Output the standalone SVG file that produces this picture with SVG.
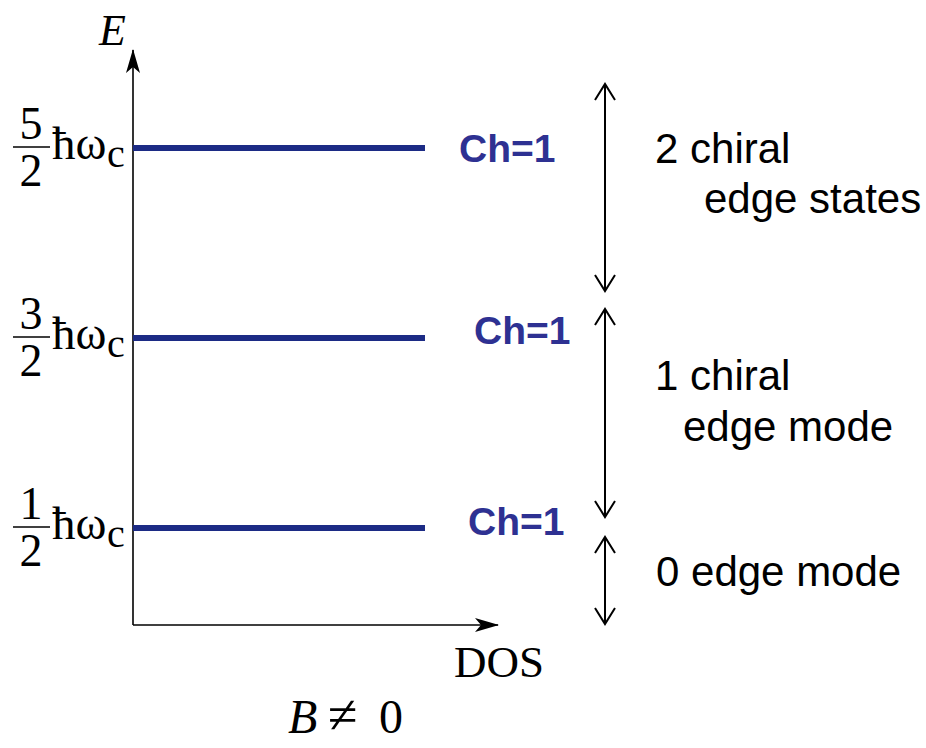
<svg xmlns="http://www.w3.org/2000/svg" width="926" height="748" viewBox="0 0 926 748">
<defs>
<style>
.serif{font-family:"Liberation Serif","Times New Roman",serif;fill:#000}
.ital{font-style:italic}
.sans{font-family:"Liberation Sans",Arial,sans-serif;fill:#000;font-size:42px}
.ch{font-family:"Liberation Sans",Arial,sans-serif;font-weight:bold;font-size:39px;fill:#2e3192}
.level{stroke:#1c2b85;stroke-width:6;fill:none}
.axis{stroke:#000;stroke-width:1.6;fill:none}
.dbl{stroke:#000;stroke-width:2;fill:none}
.frac{stroke:#000;stroke-width:1.6}
</style>
<marker id="open" viewBox="0 0 20 24" refX="18" refY="12" markerWidth="20" markerHeight="24" markerUnits="userSpaceOnUse" orient="auto-start-reverse">
<path d="M2,2 L18,12 L2,22" fill="none" stroke="#000" stroke-width="2"/>
</marker>
<marker id="solid" viewBox="0 0 24 14" refX="23" refY="7" markerWidth="24" markerHeight="14" markerUnits="userSpaceOnUse" orient="auto">
<path d="M0,0 L24,7 L0,14 L6,7 Z" fill="#000"/>
</marker>
</defs>
<rect width="926" height="748" fill="#fff"/>

<g id="axes">
<line class="axis" x1="133" y1="625" x2="133" y2="50" marker-end="url(#solid)"/>
<line class="axis" x1="133" y1="625" x2="498" y2="625" marker-end="url(#solid)"/>
<text class="serif ital" x="99" y="45" font-size="44">E</text>
<text class="serif" x="454" y="677" font-size="45">DOS</text>
<text class="serif ital" x="288" y="733" font-size="48">B</text>
<text class="serif" x="328" y="733" font-size="54">≠</text>
<text class="serif" x="379" y="733" font-size="48">0</text>
</g>

<g id="level-5-2">
<line class="level" x1="133" y1="148" x2="425" y2="148"/>
<text class="serif" x="31" y="139" font-size="46" text-anchor="middle">5</text>
<line class="frac" x1="13" y1="147" x2="50" y2="147"/>
<text class="serif" x="31" y="186" font-size="46" text-anchor="middle">2</text>
<text class="serif" x="52" y="159" font-size="47">ħω</text>
<text class="serif" x="107" y="167" font-size="40">c</text>
<text class="ch" x="459" y="162">Ch=1</text>
</g>

<g id="level-3-2">
<line class="level" x1="133" y1="338" x2="425" y2="338"/>
<text class="serif" x="31" y="329" font-size="46" text-anchor="middle">3</text>
<line class="frac" x1="13" y1="337" x2="50" y2="337"/>
<text class="serif" x="31" y="376" font-size="46" text-anchor="middle">2</text>
<text class="serif" x="52" y="349" font-size="47">ħω</text>
<text class="serif" x="107" y="357" font-size="40">c</text>
<text class="ch" x="474" y="344">Ch=1</text>
</g>

<g id="level-1-2">
<line class="level" x1="133" y1="528" x2="425" y2="528"/>
<text class="serif" x="31" y="519" font-size="46" text-anchor="middle">1</text>
<line class="frac" x1="13" y1="527" x2="50" y2="527"/>
<text class="serif" x="31" y="566" font-size="46" text-anchor="middle">2</text>
<text class="serif" x="52" y="539" font-size="47">ħω</text>
<text class="serif" x="107" y="547" font-size="40">c</text>
<text class="ch" x="468" y="535">Ch=1</text>
</g>

<g id="connectors">
<line class="dbl" x1="605" y1="84" x2="605" y2="291" marker-start="url(#open)" marker-end="url(#open)"/>
<line class="dbl" x1="605" y1="309" x2="605" y2="517" marker-start="url(#open)" marker-end="url(#open)"/>
<line class="dbl" x1="605" y1="537" x2="605" y2="624" marker-start="url(#open)" marker-end="url(#open)"/>
</g>

<g id="label-2-chiral">
<text class="sans" x="655" y="163">2 chiral</text>
<text class="sans" x="704" y="213">edge states</text>
</g>
<g id="label-1-chiral">
<text class="sans" x="655" y="390">1 chiral</text>
<text class="sans" x="683" y="441">edge mode</text>
</g>
<g id="label-0-edge">
<text class="sans" x="656" y="586">0 edge mode</text>
</g>
</svg>
